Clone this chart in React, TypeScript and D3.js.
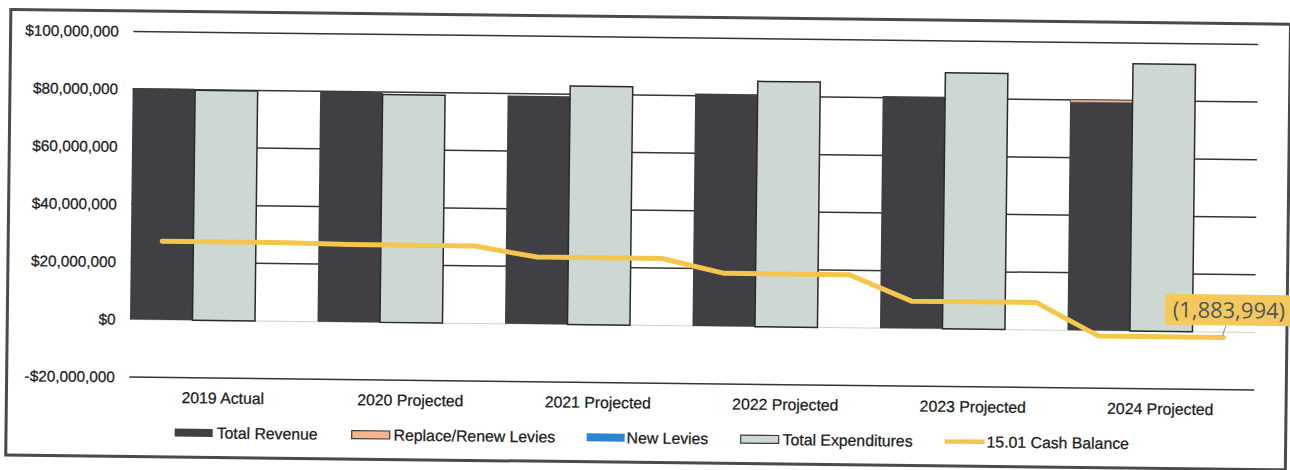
import React from "react";
import * as d3 from "d3";

const categories = ["2019 Actual", "2020 Projected", "2021 Projected", "2022 Projected", "2023 Projected", "2024 Projected"];
const totalRevenue = [80.4e6, 79.9e6, 79.3e6, 80.7e6, 80.6e6, 79.2e6];
const replaceRenewLevies = [0, 0, 0, 0, 0, 0.9e6];
const newLevies = [0, 0, 0, 0, 0, 0];
const totalExpenditures = [79.85e6, 79.1e6, 82.8e6, 85.2e6, 88.9e6, 92.8e6];
const cashBalance = [27.3e6, 26.9e6, 23.3e6, 18.4e6, 9.5e6, -1883994];
const yTicks = [-20e6, 0, 20e6, 40e6, 60e6, 80e6, 100e6];
const legendLabels = ["Total Revenue", "Replace/Renew Levies", "New Levies", "Total Expenditures", "15.01 Cash Balance"];
const lastLabel = "(1,883,994)";

const W = 1290;
const H = 470;
const FONT = "'Liberation Sans', Arial, sans-serif";
const C_REV = "#404044";
const C_LEVY = "#f3b68e";
const C_NEW = "#2f84d2";
const C_EXP = "#cdd8d4";
const C_CASH = "#f4c74c";
const C_GRID = "#353535";
const C_TEXT = "#1a1a1a";

function fmtMoney(v: number): string {
  const f = d3.format(",.0f");
  return v < 0 ? "-$" + f(-v) : "$" + f(v);
}

export default function App() {
  const x = d3.scaleBand<string>().domain(categories).range([130, 1255]).paddingInner(0).paddingOuter(0);
  const y = d3.scaleLinear().domain([-20e6, 100e6]).range([377.1, 31.5]);
  const slot = x.bandwidth() / 3;

  const cashPts: [number, number][] = [];
  categories.forEach((c, i) => {
    const b = x(c)!;
    cashPts.push([b + slot / 2, y(cashBalance[i])]);
    cashPts.push([b + slot * 2.5, y(cashBalance[i])]);
  });
  const line = d3.line<[number, number]>().x((d) => d[0]).y((d) => d[1]);
  const last = cashPts[cashPts.length - 1];

  const legendX = [176, 353, 588, 742, 946];
  const legendY = 432;
  const textStroke = { stroke: C_TEXT, strokeWidth: 0.25 };

  return (
    <svg width={W} height={H} style={{ position: "absolute", left: 0, top: 0, background: "#fff" }} fontFamily={FONT}>
      <rect x={0} y={0} width={W} height={H} fill="#fff" />
      <g transform="rotate(0.66, 130, 319.5)">
        {/* frame */}
        <rect x={7.3} y={10.8} width={1279.7} height={445.7} fill="none" stroke="#4a4a4a" strokeWidth={3} />

        {/* gridlines */}
        {yTicks.map((t) => (
          <line key={"g" + t} x1={130} x2={1255} y1={y(t)} y2={y(t)}
            stroke={t === 0 ? "#d0d0d0" : C_GRID} strokeWidth={t === 0 ? 1 : 1.5} />
        ))}

        {/* y labels */}
        {yTicks.map((t) => (
          <text key={"l" + t} x={115.5} y={y(t)} dy="0.35em" textAnchor="end" fontSize={15.3} fill={C_TEXT} {...textStroke}>
            {fmtMoney(t)}
          </text>
        ))}

        {/* bars */}
        {categories.map((c, i) => {
          const b = x(c)!;
          const r0 = y(0);
          const rTop = y(totalRevenue[i]);
          const lTop = y(totalRevenue[i] + replaceRenewLevies[i]);
          const nTop = y(totalRevenue[i] + replaceRenewLevies[i] + newLevies[i]);
          return (
            <g key={"b" + c}>
              <rect x={b} y={rTop} width={slot} height={r0 - rTop} fill={C_REV} />
              {replaceRenewLevies[i] > 0 && (
                <rect x={b} y={lTop} width={slot} height={rTop - lTop} fill={C_LEVY} stroke={C_REV} strokeWidth={0.8} />
              )}
              {newLevies[i] > 0 && (
                <rect x={b} y={nTop} width={slot} height={lTop - nTop} fill={C_NEW} />
              )}
              <rect x={b + slot} y={y(totalExpenditures[i])} width={slot}
                height={r0 - y(totalExpenditures[i])} fill={C_EXP} stroke="#2a2a2a" strokeWidth={1.5} />
            </g>
          );
        })}

        {/* category labels */}
        {categories.map((c) => (
          <text key={"c" + c} x={x(c)! + x.bandwidth() / 2} y={397} dy="0.35em" textAnchor="middle" fontSize={15.8} fill={C_TEXT} {...textStroke}>
            {c}
          </text>
        ))}

        {/* cash balance line */}
        <path d={line(cashPts)!} fill="none" stroke={C_CASH} strokeWidth={5} strokeLinejoin="round" strokeLinecap="round" />

        {/* data label */}
        <line x1={last[0] + 2} y1={last[1] - 12} x2={last[0] - 1} y2={last[1] - 2} stroke="#8a8a8a" strokeWidth={1} />
        <rect x={last[0] - 59} y={last[1] - 43} width={130} height={31} fill="#f5c85b" />
        <text x={last[0] + 5} y={last[1] - 27.5} dy="0.36em" textAnchor="middle" fontSize={22}
          fontFamily="'Open Sans', 'Noto Sans', sans-serif" fill="#4b5862">
          {lastLabel}
        </text>

        {/* legend */}
        {legendLabels.map((lab, i) => {
          const lx = legendX[i];
          let sw: React.ReactNode = null;
          if (i === 0) sw = <rect x={lx} y={legendY - 4} width={38} height={8} fill={C_REV} />;
          if (i === 1) sw = <rect x={lx} y={legendY - 4} width={38} height={8} fill={C_LEVY} stroke="#3a3a3a" strokeWidth={1.2} />;
          if (i === 2) sw = <rect x={lx} y={legendY - 4} width={38} height={8} fill={C_NEW} />;
          if (i === 3) sw = <rect x={lx} y={legendY - 4} width={38} height={8} fill={C_EXP} stroke="#3a3a3a" strokeWidth={1.2} />;
          if (i === 4) sw = <line x1={lx} x2={lx + 40} y1={legendY} y2={legendY} stroke={C_CASH} strokeWidth={4.5} />;
          return (
            <g key={"lg" + i}>
              {sw}
              <text x={lx + (i === 4 ? 42 : i === 2 ? 40 : 42)} y={legendY} dy="0.35em" fontSize={15.8} fill={C_TEXT} {...textStroke}>
                {lab}
              </text>
            </g>
          );
        })}
      </g>
    </svg>
  );
}
